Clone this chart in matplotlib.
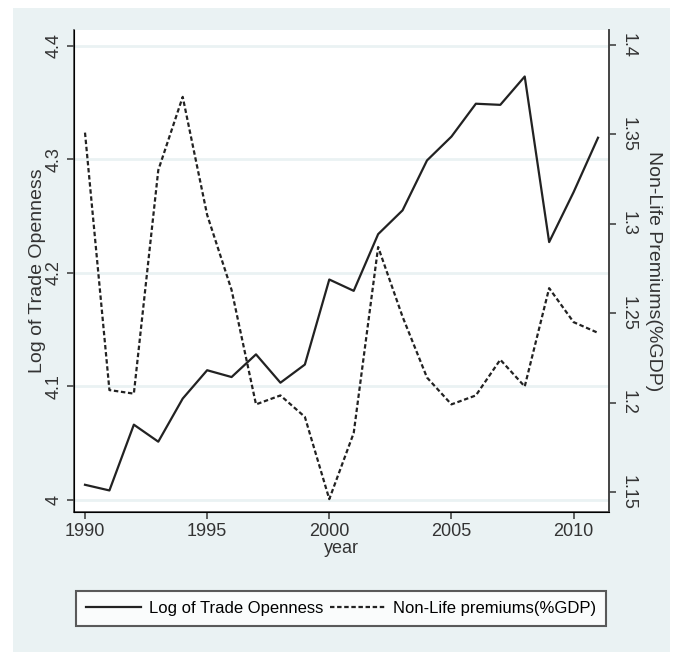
import numpy as np
import matplotlib.pyplot as plt
from matplotlib.patches import Rectangle

plt.rcParams['font.family'] = ['Liberation Sans', 'DejaVu Sans']

# data
years = np.arange(1990, 2012)
trade_open = [4.013, 4.008, 4.066, 4.051, 4.089, 4.114, 4.108, 4.128, 4.103, 4.119,
              4.194, 4.184, 4.234, 4.255, 4.299, 4.320, 4.349, 4.348, 4.373, 4.227,
              4.271, 4.319]
nonlife = [1.351, 1.207, 1.205, 1.330, 1.371, 1.305, 1.263, 1.199, 1.204, 1.192,
           1.146, 1.183, 1.287, 1.248, 1.214, 1.199, 1.204, 1.224, 1.209, 1.264,
           1.245, 1.239]
left_ticks = [4.0, 4.1, 4.2, 4.3, 4.4]
left_labels = ['4', '4.1', '4.2', '4.3', '4.4']
right_ticks = [1.15, 1.2, 1.25, 1.3, 1.35, 1.4]
right_labels = ['1.15', '1.2', '1.25', '1.3', '1.35', '1.4']
x_ticks = [1990, 1995, 2000, 2005, 2010]

bg = '#eaf2f3'
txt = '#333333'
fig = plt.figure(figsize=(6.78, 6.52), dpi=100)
fig.patches.append(Rectangle((13/678, 0), 657/678, 1 - 8/652, transform=fig.transFigure,
                             facecolor=bg, edgecolor='none', zorder=-10))

ax1 = fig.add_axes([74/678, 1 - 512/652, 535/678, 482/652])
ax1.set_facecolor('white')
ax1.plot(years, trade_open, color='#222222', lw=1.6, label='Log of Trade Openness')
ax1.set_xlim(1989.55, 2011.45)
ax1.set_ylim(3.989, 4.414)
ax1.set_yticks(left_ticks)
ax1.set_yticklabels(left_labels, rotation=90, va='center', fontsize=13, color=txt)
ax1.set_xticks(x_ticks)
ax1.set_xticklabels([str(x) for x in x_ticks], fontsize=13, color=txt)
ax1.grid(axis='y', color=bg, lw=2)
ax1.set_axisbelow(True)
ax1.set_xlabel('year', fontsize=13, color=txt, labelpad=0)
ax1.set_ylabel('Log of Trade Openness', fontsize=14, color=txt, labelpad=0)
ax1.spines['top'].set_visible(False)
for s in ['left', 'bottom', 'right']:
    ax1.spines[s].set_color('#444444')
    ax1.spines[s].set_linewidth(1.2)
ax1.tick_params(length=5, color='#444444', width=1.2, pad=3)

ax2 = ax1.twinx()
ax2.plot(years, nonlife, color='#222222', lw=1.6, linestyle=(0, (2, 1.2)),
         label='Non-Life premiums(%GDP)')
ax2.set_ylim(1.1388, 1.4084)
ax2.set_yticks(right_ticks)
ax2.set_yticklabels(right_labels, rotation=-90, va='center', fontsize=13, color=txt)
ax2.set_ylabel('Non-Life Premiums(%GDP)', fontsize=14, color=txt, rotation=-90,
               labelpad=18)
ax2.spines['top'].set_visible(False)
ax2.spines['right'].set_color('#444444')
ax2.spines['right'].set_linewidth(1.2)
ax2.tick_params(length=5, color='#444444', width=1.2, pad=3)

h1, l1 = ax1.get_legend_handles_labels()
h2, l2 = ax2.get_legend_handles_labels()
leg = fig.legend(h1 + h2, l1 + l2, loc='center', ncol=2,
                 bbox_to_anchor=(341/678, 1 - 608/652),
                 fontsize=12, frameon=True, fancybox=False, handlelength=3.3,
                 handletextpad=0.5, columnspacing=0.4, borderpad=0.6)
leg.get_frame().set_edgecolor('#333333')
leg.get_frame().set_linewidth(1.5)

fig.savefig('out.png', dpi=100)
